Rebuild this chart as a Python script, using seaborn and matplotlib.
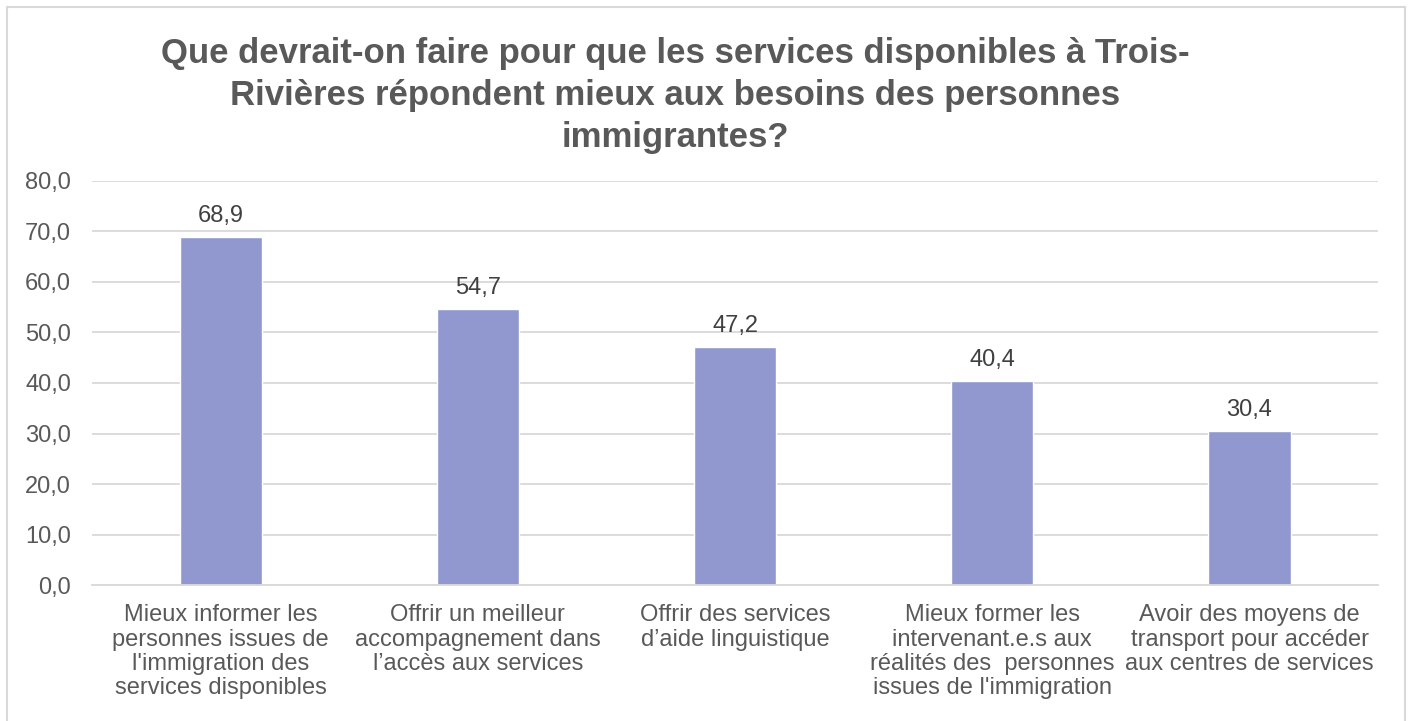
import matplotlib
matplotlib.use("Agg")
import matplotlib.pyplot as plt
import matplotlib.patches as mpatches
from matplotlib.ticker import FuncFormatter, MultipleLocator
import seaborn as sns
import pandas as pd

categories = [
    "Mieux informer les\npersonnes issues de\nl'immigration des\nservices disponibles",
    "Offrir un meilleur\naccompagnement dans\nl\u2019acc\u00e8s aux services",
    "Offrir des services\nd\u2019aide linguistique",
    "Mieux former les\nintervenant.e.s aux\nr\u00e9alit\u00e9s des  personnes\nissues de l'immigration",
    "Avoir des moyens de\ntransport pour acc\u00e9der\naux centres de services",
]
values = [68.9, 54.7, 47.2, 40.4, 30.4]
title = "Que devrait-on faire pour que les services disponibles \u00e0 Trois-\nRivi\u00e8res r\u00e9pondent mieux aux besoins des personnes\nimmigrantes?"

sns.set_style("white")
plt.rcParams['font.family'] = ['Liberation Sans', 'DejaVu Sans']

TXT = "#595959"
GRID = "#d9d9d9"
BAR = "#9198cf"

df = pd.DataFrame({"cat": categories, "val": values})

fig = plt.figure(figsize=(14.12, 7.21), dpi=100)
ax = fig.add_axes([0.0652, 0.1886, 0.9108, 0.5604])

sns.barplot(data=df, x="cat", y="val", color=BAR, width=0.32, ax=ax, saturation=1)

ax.set_ylim(0, 80)
ax.yaxis.set_major_locator(MultipleLocator(10))
ax.yaxis.set_major_formatter(FuncFormatter(lambda v, p: f"{v:.1f}".replace(".", ",")))
ax.set_xlim(-0.5, len(categories) - 0.5)
ax.grid(axis="y", color=GRID, linewidth=1.3)
ax.set_axisbelow(True)
for s in ["top", "right", "left"]:
    ax.spines[s].set_visible(False)
ax.spines["bottom"].set_color(GRID)
ax.spines["bottom"].set_linewidth(1.3)
ax.tick_params(axis="both", length=0, colors=TXT, labelsize=17)
ax.tick_params(axis="y", pad=15)
ax.tick_params(axis="x", pad=14)
ax.set_xlabel("")
ax.set_ylabel("")
for lbl in ax.get_xticklabels():
    lbl.set_ha("center")
    lbl.set_multialignment("center")
    lbl.set_linespacing(1.12)

for i, v in enumerate(values):
    ax.text(i, v + 2.0, f"{v:.1f}".replace(".", ","), ha="center", va="bottom",
            fontsize=17, color="#404040")

fig.text(0.478, 1 - 37 / 721, title, ha="center", va="top", fontsize=25,
         fontweight="bold", color=TXT, linespacing=1.34)

fig.patches.append(mpatches.Rectangle((7 / 1412, -0.01), 1398 / 1412, 1 - 7 / 721 + 0.01,
                                      transform=fig.transFigure, fill=False,
                                      edgecolor=GRID, linewidth=1.5))

fig.savefig("out.png", dpi=100, facecolor="white")
